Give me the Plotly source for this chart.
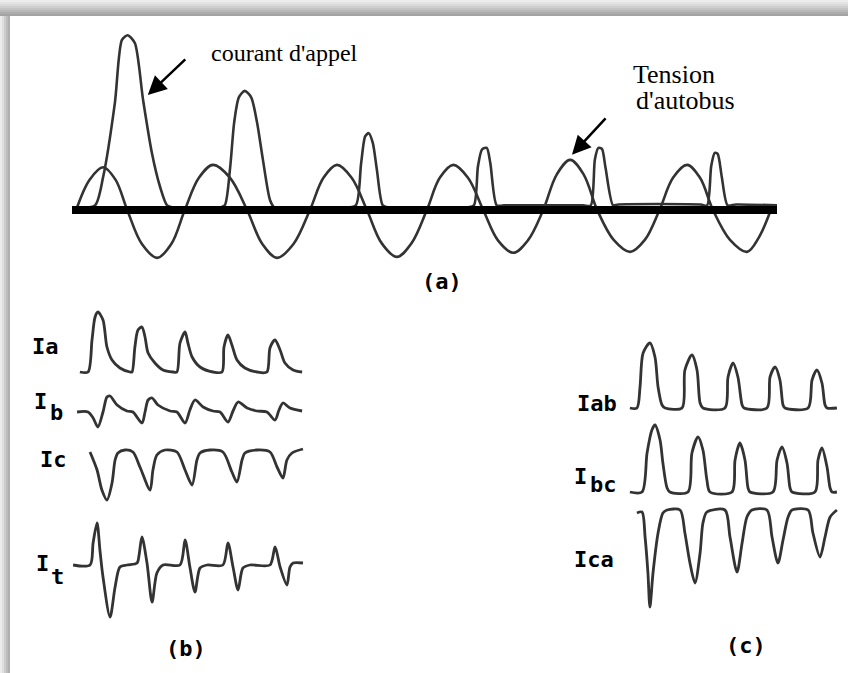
import plotly.graph_objects as go

W, H = 848, 673

# ---------------- data ----------------
# Panel (a): bus voltage (pu) and inrush current (pu), time in ms
va_t = [0.7, 3.0, 5.3, 7.4, 9.4, 11.9, 14.5, 16.9, 19.2, 21.6, 24.0, 26.9, 29.8, 32.4, 34.9,
        37.7, 40.5, 42.8, 45.1, 47.6, 50.2, 52.7, 55.3, 57.8, 60.4, 62.6, 64.9, 67.4, 70.0,
        72.5, 75.1, 77.6, 80.2, 82.5, 84.8, 87.1, 89.4, 92.2, 95.0, 97.5, 100.0, 102.3,
        104.7, 106.9, 109.1, 112.0, 114.9, 116.9, 118.8]
va_v = [0, 0.66, 0.93, 0.66, 0, -0.74, -1.04, -0.74, 0, 0.70, 0.98, 0.70, 0, -0.74, -1.04,
        -0.74, 0, 0.70, 0.98, 0.70, 0, -0.72, -1.02, -0.72, 0, 0.70, 0.98, 0.70, 0,
        -0.66, -0.93, -0.66, 0, 0.77, 1.09, 0.77, 0, -0.65, -0.91, -0.65, 0, 0.70,
        0.98, 0.70, 0, -0.65, -0.91, -0.60, -0.05]

ia_t = [0, 3.9, 5.3, 7.3, 8.5, 9.5, 10.7, 12.1, 13.6, 15.0, 16.2, 17.5, 25.0,
        26.0, 26.9, 27.6, 28.4, 29.4, 30.5, 31.5, 32.5, 33.7, 34.5, 46.0,
        48.3, 49.2, 49.9, 50.5, 51.2, 51.9, 52.9, 54.0, 67.0,
        68.4, 69.1, 69.8, 70.6, 71.2, 72.3, 73.5, 87.0,
        88.3, 89.0, 89.6, 90.2, 90.8, 92.1, 93.0, 107.0,
        108.1, 108.8, 109.4, 109.9, 110.6, 111.6, 113.0, 120.0]
ia_i = [0.05, 0.1, 0.72, 2.33, 3.70, 3.80, 3.63, 2.39, 1.24, 0.50, 0.10, 0.05, 0.05,
        0.1, 0.9, 1.9, 2.45, 2.59, 2.45, 1.90, 1.09, 0.22, 0.05, 0.05,
        0.1, 1.0, 1.6, 1.67, 1.46, 0.87, 0.10, 0.05, 0.05,
        0.1, 0.95, 1.32, 1.35, 1.02, 0.10, 0.10, 0.10,
        0.1, 1.10, 1.35, 1.33, 0.93, 0.10, 0.12, 0.12,
        0.1, 0.95, 1.24, 1.22, 0.72, 0.10, 0.12, 0.10]

# Panel (b): line currents Ia, Ib, Ic and total It (A), time in ms
Ia_t = [4.5, 8.2, 10.0, 11.4, 12.7, 15.0, 16.8, 19.1, 22.7, 27.3,
        28.2, 29.5, 30.9, 32.7, 34.1, 35.5, 38.6, 42.3, 46.8,
        48.6, 50.0, 52.3, 53.6, 55.5, 59.1, 65.0,
        69.1, 70.0, 71.8, 73.6, 75.9, 79.5, 85.0,
        89.5, 90.9, 93.2, 95.5, 97.7, 101.4, 105.5]
Ia_v = [0, 0, 3.2, 5.5, 6.0, 5.2, 2.5, 1.2, 0.4, 0,
        0, 2.5, 4.2, 4.5, 3.5, 1.9, 0.9, 0.2, 0,
        0, 2.9, 4.0, 2.9, 1.5, 0.5, 0,
        0, 2.5, 3.7, 2.7, 1.2, 0.4, 0,
        0, 2.4, 3.2, 2.2, 0.9, 0.2, 0]

Ib_t = [3.2, 8.2, 10.5, 12.7, 15.0, 16.8, 18.2, 21.4, 25.9, 28.6,
        32.7, 34.1, 35.5, 37.3, 40.0, 45.5, 48.6,
        52.3, 54.5, 56.8, 60.5, 65.0, 68.2,
        71.8, 74.1, 76.4, 80.5, 85.0, 89.5,
        93.2, 95.0, 96.8, 100.0, 105.5]
Ib_v = [0, 0, -0.6, -1.5, 0, 1.5, 1.6, 0.7, 0.1, 0,
        -1.1, 0, 1.2, 1.4, 0.7, 0.1, 0,
        -1.1, 0.2, 1.2, 0.5, 0.1, 0,
        -1.0, 0.1, 1.0, 0.4, 0.1, 0,
        -0.8, 0.2, 0.9, 0.4, 0.1]

Ic_t = [9.1, 12.3, 14.5, 16.8, 19.1, 20.5, 21.8, 25.0, 28.6,
        31.8, 36.4, 37.7, 39.5, 43.2, 48.6,
        52.3, 55.5, 57.7, 59.1, 63.6, 69.5,
        73.6, 75.9, 78.2, 79.5, 85.0, 90.9,
        94.1, 96.8, 98.6, 100.9, 105.9]
Ic_v = [0, -1.8, -3.8, -4.8, -3.1, -0.8, -0.1, 0.2, 0,
        -1.5, -3.8, -1.8, -0.3, 0.2, 0,
        -1.8, -3.3, -0.8, -0.1, 0.2, 0,
        -2.0, -3.0, -0.8, -0.1, 0.2, 0,
        -1.5, -2.6, -0.8, -0.1, 0.3]

It_t = [1.4, 9.1, 10.5, 12.3, 13.6, 15.0, 18.2, 20.5, 22.7, 25.9,
        30.5, 31.4, 32.7, 35.0, 37.3, 39.5, 42.3,
        50.0, 52.3, 54.5, 56.8, 59.1, 62.3,
        69.5, 71.8, 74.1, 76.4, 78.6, 81.8,
        90.9, 93.2, 95.5, 98.6, 100.0, 101.4, 105.9]
It_v = [0, 0, 2.2, 4.2, 1.5, -1.2, -5.2, -2.2, -0.2, 0,
        0.2, 1.0, 2.8, 0.2, -3.7, -0.8, 0,
        0, 2.5, -0.2, -2.7, -0.3, 0,
        0, 2.2, -0.2, -2.5, -0.3, 0,
        0, 1.8, -0.2, -2.0, -0.2, 0.2, 0.2]

# Panel (c): delta currents Iab, Ibc, Ica (A), time in ms
Iab_t = [4.5, 7.7, 9.1, 10.5, 13.6, 15.9, 17.3, 19.1, 20.5,
         28.2, 29.5, 32.7, 35.0, 36.4, 37.7,
         47.7, 49.1, 51.4, 53.6, 55.5, 56.4,
         66.8, 68.2, 70.5, 72.7, 74.1, 75.0,
         85.5, 87.3, 89.5, 91.8, 93.2, 94.1, 98.6]
Iab_v = [0, 0, 2.1, 5.5, 6.5, 5.1, 2.1, 0.3, 0,
         0, 3.8, 5.3, 3.8, 0.5, 0,
         0, 3.1, 4.5, 3.1, 0.3, 0,
         0, 3.1, 4.1, 2.8, 0.3, 0,
         0, 2.8, 3.8, 2.5, 0.3, 0, 0]

Ibc_t = [4.5, 10.0, 12.3, 14.5, 15.9, 18.2, 19.5, 21.4, 22.7,
         30.9, 32.7, 35.5, 37.7, 39.5, 40.9,
         50.9, 52.3, 54.5, 56.8, 58.2, 59.1,
         69.5, 71.4, 73.6, 75.9, 77.3, 78.2,
         88.6, 90.0, 91.8, 94.1, 95.5, 96.4, 98.6]
Ibc_v = [0, 0, 3.9, 6.2, 6.7, 5.2, 2.9, 0.4, 0,
         0, 3.9, 5.5, 4.2, 1.2, 0,
         0, 3.2, 4.9, 3.2, 0.4, 0,
         0, 3.2, 4.5, 2.9, 0.4, 0,
         0, 3.2, 4.4, 2.5, 0.4, 0, 0]

Ica_t = [7.7, 10.0, 11.4, 12.7, 13.6, 15.0, 17.3, 19.5, 21.4,
         27.3, 29.5, 31.8, 34.1, 36.4, 37.7, 39.5,
         47.7, 50.0, 53.2, 55.5, 57.7, 60.0,
         66.8, 69.1, 71.8, 74.1, 76.4, 78.2,
         85.5, 87.7, 90.9, 93.2, 95.5, 98.6]
Ica_v = [-0.3, -0.2, -2.7, -6.3, -9.7, -6.3, -2.3, -0.3, 0,
         0, -2.3, -5.3, -7.3, -4.3, -1.3, -0.2,
         0, -2.7, -6.2, -3.3, -0.7, 0,
         0, -2.7, -5.3, -3.0, -0.7, 0,
         0, -2.3, -4.7, -2.7, -0.7, 0]

# ---------------- layout helpers ----------------
def xdom(p0, p1):
    return [p0 / W, p1 / W]

def ydom(zero_px, ppu, lo, hi):
    return [1 - (zero_px - lo * ppu) / H, 1 - (zero_px - hi * ppu) / H]

fig = go.Figure()
WAVE = "#333333"

def add_wave(t, v, xa, ya, width=2.8, smooth=0.8):
    fig.add_trace(go.Scatter(x=t, y=v, xaxis=xa, yaxis=ya, mode="lines",
                             line=dict(color=WAVE, width=width, shape="spline", smoothing=smooth),
                             hoverinfo="skip", showlegend=False))

add_wave(va_t, va_v, "x", "y", 2.6, 1.0)
add_wave(ia_t, ia_i, "x", "y", 2.6, 0.7)
add_wave(Ia_t, Ia_v, "x2", "y2")
add_wave(Ib_t, Ib_v, "x2", "y3")
add_wave(Ic_t, Ic_v, "x2", "y4")
add_wave(It_t, It_v, "x2", "y5")
add_wave(Iab_t, Iab_v, "x3", "y6")
add_wave(Ibc_t, Ibc_v, "x3", "y7")
add_wave(Ica_t, Ica_v, "x3", "y8")

hid = dict(visible=False, showgrid=False, zeroline=False, fixedrange=True)
PPU_A = 46.0   # px per pu, panel (a)
PPU_B = 10.0   # px per A, panels (b), (c)

layout = dict(
    width=W, height=H, margin=dict(l=0, r=0, t=0, b=0),
    paper_bgcolor="#e9e9e9", plot_bgcolor="rgba(0,0,0,0)", showlegend=False,
    xaxis=dict(domain=xdom(72, 777), range=[0, 120], **hid),
    yaxis=dict(domain=ydom(210, PPU_A, -1.3, 4.0), range=[-1.3, 4.0], **hid),
    xaxis2=dict(domain=xdom(70, 312), range=[0, 110], anchor="y2", **hid),
    yaxis2=dict(domain=ydom(372, PPU_B, -1, 7), range=[-1, 7], anchor="x2", **hid),
    yaxis3=dict(domain=ydom(412, PPU_B, -2, 2), range=[-2, 2], anchor="x2", **hid),
    yaxis4=dict(domain=ydom(452, PPU_B, -5.5, 0.8), range=[-5.5, 0.8], anchor="x2", **hid),
    yaxis5=dict(domain=ydom(565, PPU_B, -6, 5), range=[-6, 5], anchor="x2", **hid),
    xaxis3=dict(domain=xdom(620, 840), range=[0, 100], anchor="y6", **hid),
    yaxis6=dict(domain=ydom(408, PPU_B, -0.5, 7.5), range=[-0.5, 7.5], anchor="x3", **hid),
    yaxis7=dict(domain=ydom(492, PPU_B, -0.5, 7.5), range=[-0.5, 7.5], anchor="x3", **hid),
    yaxis8=dict(domain=ydom(510, PPU_B, -10.5, 0.5), range=[-10.5, 0.5], anchor="x3", **hid),
)
fig.update_layout(**layout)

# ---------------- background frame (drop shadow) ----------------
shapes = []
top_cols = ["#ececec", "#e4e4e4", "#dadada", "#cfcfcf", "#c3c3c3", "#b7b7b7", "#acacac", "#a3a3a3"]
for k, c in enumerate(top_cols):
    shapes.append(dict(type="rect", xref="paper", yref="paper", layer="below",
                       x0=0, x1=1, y0=1 - (2 * k + 2) / H, y1=1 - (2 * k) / H,
                       fillcolor=c, line=dict(width=0)))
left_cols = ["#ececec", "#dedede", "#cdcdcd", "#bcbcbc", "#b0b0b0"]
for k, c in enumerate(left_cols):
    shapes.append(dict(type="rect", xref="paper", yref="paper", layer="below",
                       x0=(2 * k) / W, x1=(2 * k + 2) / W, y0=0, y1=1 - 16 / H,
                       fillcolor=c, line=dict(width=0)))
shapes.append(dict(type="rect", xref="paper", yref="paper", layer="below",
                   x0=10 / W, x1=1, y0=0, y1=1 - 16 / H,
                   fillcolor="white", line=dict(width=0)))
# thick time axis of panel (a)
shapes.append(dict(type="line", xref="x", yref="y", x0=0, x1=120, y0=0, y1=0,
                   line=dict(color="black", width=8), layer="above"))
fig.update_layout(shapes=shapes)

# ---------------- texts ----------------
SERIF = "Liberation Serif, Times New Roman, serif"
LAB = "DejaVu Sans Mono, monospace"
ann = []

def txt(s, px, py, size, family=LAB, bold=True, xanchor="center"):
    ann.append(dict(text=("<b>%s</b>" % s) if bold else s, x=px / W, y=1 - py / H,
                    xref="paper", yref="paper", xanchor=xanchor, yanchor="middle",
                    showarrow=False, font=dict(family=family, size=size, color="black")))

txt("courant d'appel", 209, 53, 24, SERIF, False, "left")
txt("Tension", 631, 74, 26, SERIF, False, "left")
txt("d'autobus", 634, 100, 26, SERIF, False, "left")

txt("(a)", 441.5, 281, 22)
txt("(b)", 186, 648, 22)
txt("(c)", 746, 645, 22)

txt("Ia", 45.5, 347, 22)
txt("I", 40.5, 401, 22)
txt("b", 56, 412, 22)
txt("Ic", 53.5, 459, 22)
txt("I", 42, 563, 22)
txt("t", 57, 576, 22)

txt("Iab", 597, 403, 22)
txt("I", 580, 476, 22)
txt("bc", 603.5, 484, 22)
txt("Ica", 594, 559, 22)

# arrows pointing at the curves of panel (a)
ann.append(dict(x=12.9, y=2.5, xref="x", yref="y", ax=39, ay=-37, text="",
                showarrow=True, arrowhead=2, arrowsize=1.5, arrowwidth=2.5,
                arrowcolor="black", standoff=0))
ann.append(dict(x=85.1, y=1.2, xref="x", yref="y", ax=35, ay=-38, text="",
                showarrow=True, arrowhead=2, arrowsize=1.5, arrowwidth=2.5,
                arrowcolor="black", standoff=0))
fig.update_layout(annotations=ann)

fig.write_html("out.html", config={"displayModeBar": False},
               post_script="document.body.style.margin='0';document.body.style.overflow='hidden';")
